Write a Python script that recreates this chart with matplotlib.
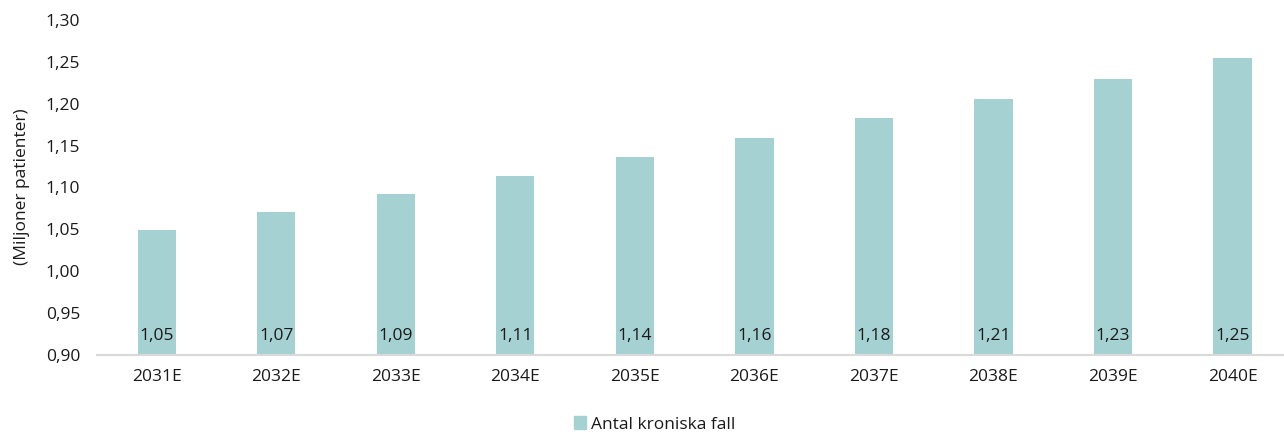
import matplotlib.pyplot as plt
from matplotlib.patches import Patch

years = ['2031E', '2032E', '2033E', '2034E', '2035E',
         '2036E', '2037E', '2038E', '2039E', '2040E']
cases = [1.049, 1.071, 1.092, 1.114, 1.136, 1.159, 1.183, 1.206, 1.230, 1.254]
yticks = [0.90, 0.95, 1.00, 1.05, 1.10, 1.15, 1.20, 1.25, 1.30]

plt.rcParams['font.family'] = ['Open Sans', 'DejaVu Sans']
bar_color = '#a6d1d2'
txt = '#1a1a1a'
fs = 12.5

fig = plt.figure(figsize=(12.84, 4.34), dpi=100)
ax = fig.add_axes([0.0755, 0.182, 0.931, 0.772])

x = range(len(years))
ax.bar(x, [v - 0.90 for v in cases], bottom=0.90, width=0.32, color=bar_color)
for i, v in enumerate(cases):
    ax.text(i, 0.913, f'{v:.2f}'.replace('.', ','), ha='center', va='bottom',
            fontsize=fs, color=txt)

ax.set_xlim(-0.5, len(years) - 0.5)
ax.set_ylim(0.90, 1.30)
ax.set_yticks(yticks)
ax.set_yticklabels([f'{t:.2f}'.replace('.', ',') for t in yticks])
ax.set_xticks(list(x))
ax.set_xticklabels(years)
ax.tick_params(length=0, labelsize=fs, colors=txt)
ax.tick_params(axis='x', pad=10)
ax.tick_params(axis='y', pad=12)
for s in ['top', 'right', 'left']:
    ax.spines[s].set_visible(False)
ax.spines['bottom'].set_color('#d9d9d9')
ax.spines['bottom'].set_linewidth(1.5)

fig.text(0.017, 0.57, '(Miljoner patienter)', rotation=90, ha='center',
         va='center', fontsize=fs, color=txt)

fig.legend(handles=[Patch(color=bar_color, label='Antal kroniska fall')],
           loc='center', bbox_to_anchor=(0.51, 0.022), frameon=False,
           fontsize=fs, handlelength=0.7, handleheight=0.7, handletextpad=0.3,
           labelcolor=txt)

fig.savefig('out.png', dpi=100)
